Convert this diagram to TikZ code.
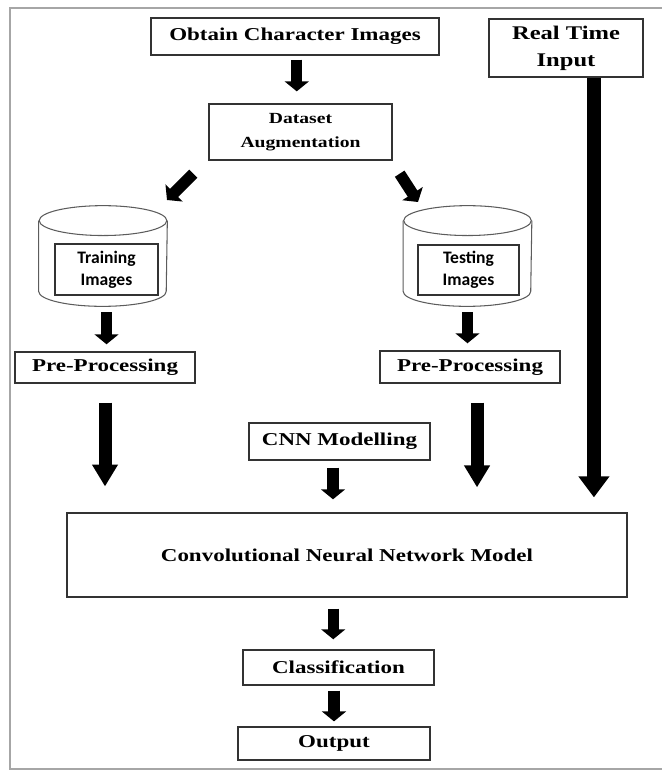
\documentclass[tikz,border=0pt]{standalone}
\usepackage{fontspec}
\usetikzlibrary{arrows.meta}
\newfontfamily\boxfont{Liberation Serif}[FakeStretch=1.27]
\newfontfamily\dbfont{Carlito}
\definecolor{edge}{HTML}{333333}
\definecolor{frame}{HTML}{A6A6A6}

\begin{document}
\begin{tikzpicture}[x=0.02cm, y=-0.02cm,
    box/.style={draw=edge, line width=0.8pt, inner sep=0pt, align=center, font=\boxfont\bfseries\fontsize{10.3}{14}\selectfont},
    small/.style={box, font=\boxfont\bfseries\fontsize{8.8}{13.5}\selectfont},
    db/.style={inner sep=0pt, minimum width=2.56cm, minimum height=2cm},
    dbin/.style={draw=edge, line width=0.8pt, inner sep=0pt, align=center, font=\dbfont\bfseries\fontsize{10}{12.5}\selectfont},
    blk/.style={line width=6.5pt, -{Triangle[width=13.6pt, length=5.7pt]}},
    big/.style={line width=7.4pt, -{Triangle[width=14pt, length=12.5pt]}},
    huge/.style={line width=8pt, -{Triangle[width=17pt, length=12pt]}}]

  \useasboundingbox (0,0) rectangle (662,771);
  \draw[frame, line width=0.8pt] (662,8) -- (10,8) -- (10,769) -- (662,769);

  \node[box, minimum width=5.76cm, minimum height=0.74cm] (obt) at (295,36.5) {Obtain Character Images};
  \node[box, minimum width=3.08cm, minimum height=1.16cm, font=\boxfont\bfseries\fontsize{11}{15.5}\selectfont] (rt) at (566,48) {Real Time\\Input};
  \node[small, minimum width=3.66cm, minimum height=1.12cm] (ds) at (300.5,132) {Dataset\\Augmentation};

  \node[db] (cyl1) at (103,256) {};
  \node[db] (cyl2) at (467.5,256) {};
  \foreach \c in {cyl1, cyl2} {
    \draw[edge!80, line width=0.6pt] ([yshift=-8.5pt]\c.north) ellipse [x radius=36.3pt, y radius=8.5pt];
    \draw[edge!80, line width=0.6pt] ([yshift=-8.5pt]\c.north west) -- ([yshift=8.5pt]\c.south west)
      arc [start angle=180, end angle=360, x radius=36.3pt, y radius=8.5pt] -- ([yshift=-8.5pt]\c.north east);
  }
  \node[dbin, minimum width=2.06cm, minimum height=1.02cm] (trn) at (106.5,269.5) {Training\\Images};
  \node[dbin, minimum width=2.02cm, minimum height=1cm] (tst) at (468.5,270) {Testing\\Images};

  \node[box, minimum width=3.6cm, minimum height=0.62cm] (pp1) at (105,367.5) {Pre-Processing};
  \node[box, minimum width=3.6cm, minimum height=0.64cm] (pp2) at (470,367) {Pre-Processing};
  \node[box, minimum width=3.62cm, minimum height=0.74cm] (cnn) at (339.5,441.5) {CNN Modelling};
  \node[box, minimum width=11.2cm, minimum height=1.68cm] (model) at (347,555) {Convolutional Neural Network Model};
  \node[box, minimum width=3.82cm, minimum height=0.7cm] (cls) at (338.5,667.5) {Classification};
  \node[box, minimum width=3.84cm, minimum height=0.66cm] (out) at (334,743.5) {Output};

  \draw[blk, shorten <=2.3pt, shorten >=6.8pt] ([xshift=1pt]obt.south) -- ([xshift=1pt]obt.south |- ds.north);
  \draw[blk] ([shift={(-15,13)}]ds.south west) -- ([shift={(64,-56)}]cyl1.center);
  \draw[blk] ([shift={(7,13)}]ds.south east) -- ([shift={(-49.5,-54)}]cyl2.center);
  \draw[blk, shorten <=3.4pt, shorten >=4pt] ([xshift=2pt]cyl1.south) -- ([xshift=2pt]cyl1.south |- pp1.north);
  \draw[blk, shorten <=3.4pt, shorten >=4pt] (cyl2.south) -- (cyl2.south |- pp2.north);
  \draw[big, shorten <=10.8pt, shorten >=14.7pt] (pp1.south) -- (pp1.south |- model.north);
  \draw[big, shorten <=10.8pt, shorten >=14.2pt] ([xshift=4pt]pp2.south) -- ([xshift=4pt]pp2.south |- model.north);
  \draw[huge, shorten >=8.5pt] ([xshift=15.9pt]rt.south) -- ([xshift=15.9pt]rt.south |- model.north);
  \draw[blk, shorten <=4pt, shorten >=7.4pt] ([xshift=-3.7pt]cnn.south) -- ([xshift=-3.7pt]cnn.south |- model.north);
  \draw[blk, shorten <=6.2pt, shorten >=5.7pt] ([xshift=-3pt]model.south -| cls.north) -- ([xshift=-3pt]cls.north);
  \draw[blk, shorten <=2.8pt, shorten >=2.8pt] (cls.south -| out.north) -- (out.north);
\end{tikzpicture}
\end{document}
